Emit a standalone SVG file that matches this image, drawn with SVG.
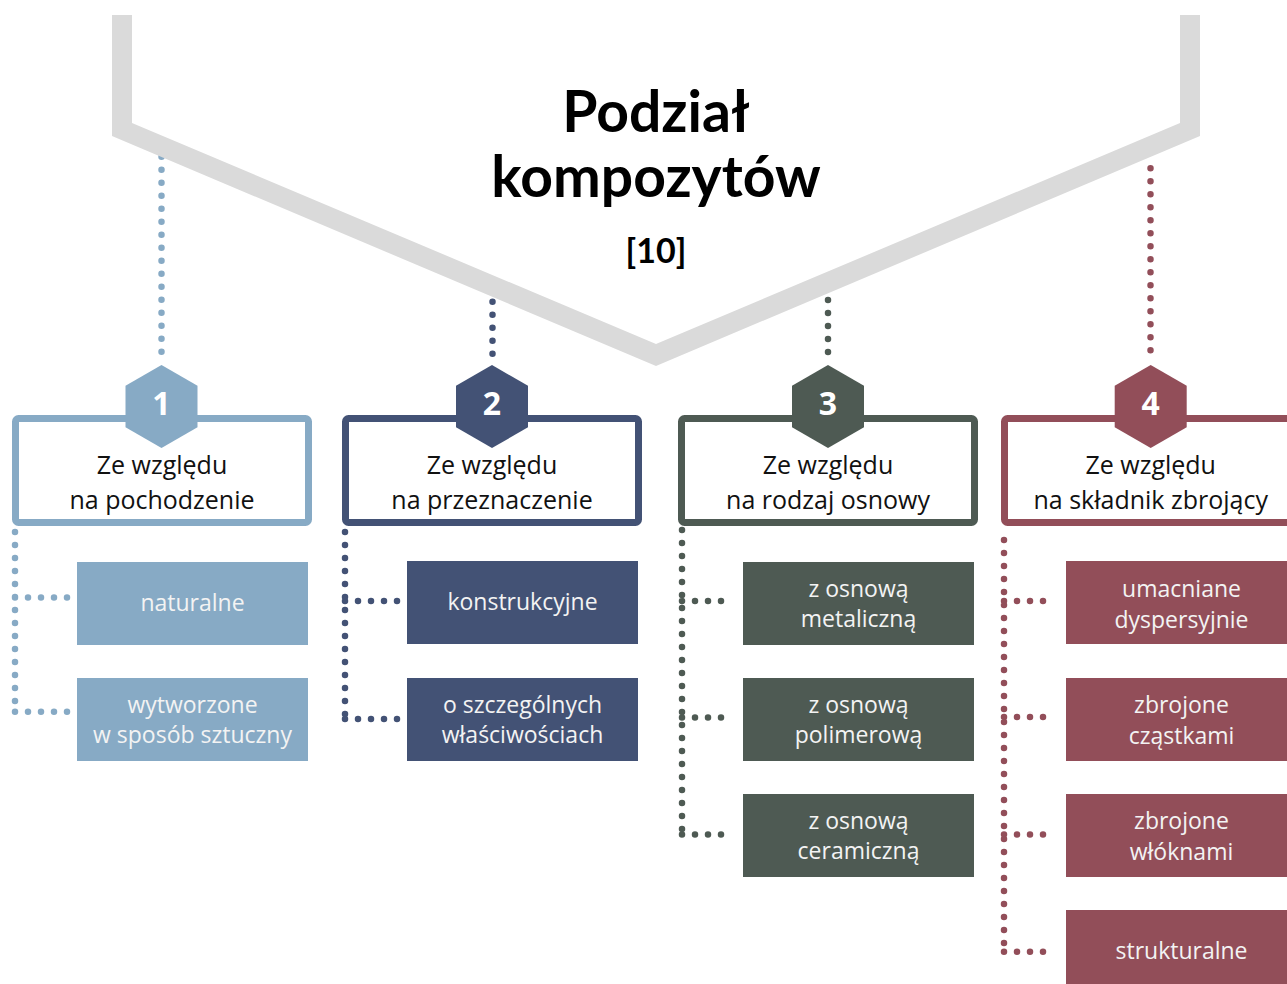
<svg xmlns="http://www.w3.org/2000/svg" width="1287" height="984" viewBox="0 0 1287 984">
<style>
.title{font-family:Lato,"Noto Sans",sans-serif;font-weight:700;fill:#000;text-anchor:middle}
.hdr{font-family:"Open Sans","Noto Sans",sans-serif;font-size:25px;fill:#111;text-anchor:middle}
.num{font-family:"Open Sans","Noto Sans",sans-serif;font-weight:700;font-size:32px;fill:#fff;text-anchor:middle}
.sub{font-family:"Open Sans","Noto Sans",sans-serif;font-size:23px;fill:#f3f3f3;text-anchor:middle}
.dot{fill:none;stroke-width:6.5;stroke-linecap:round;stroke-dasharray:0 13}
.frame{fill:#fff;stroke-width:7}
.c1{stroke:#87aac5}.f1{fill:#87aac5}
.c2{stroke:#435275}.f2{fill:#435275}
.c3{stroke:#4e5a53}.f3{fill:#4e5a53}
.c4{stroke:#924e59}.f4{fill:#924e59}
</style>
<rect width="1287" height="984" fill="#fff"/>
<g id="connectors">
<path class="dot c1" d="M161.5 156.7V355"/>
<path class="dot c2" d="M492.5 301.7V356"/>
<path class="dot c3" d="M828 300V354"/>
<path class="dot c4" d="M1150.5 168.3V355"/>
<path class="dot c1" d="M15 532V711.7M15 597.5H67.7M15 711.7H67.7"/>
<path class="dot c2" d="M345 532V719M345 601H397.7M345 719H397.7"/>
<path class="dot c3" d="M682 530V834.5M682 601H732.7M682 717.5H732.7M682 834.5H732.7"/>
<path class="dot c4" d="M1004 540V951.7M1004 601H1056M1004 717H1056M1004 834.5H1056M1004 951.7H1056"/>
</g>
<g id="header">
<polygon fill="#dadada" points="112,15 112,136 656,366 1200,136 1200,15 1180,15 1180,123 656,344 132,123 132,15"/>
<text class="title" x="656" y="132" font-size="57">Podział</text>
<text class="title" x="656" y="197" font-size="57">kompozytów</text>
<text class="title" x="656" y="263" font-size="34">[10]</text>
</g>
<g id="cat1">
<rect class="frame c1" x="15.5" y="418.5" width="293" height="104" rx="3"/>
<polygon class="f1" points="161.5,365 197.5,385.75 197.5,427.25 161.5,448 125.5,427.25 125.5,385.75"/>
<text class="num" x="161.5" y="415">1</text>
<text class="hdr" x="162" y="473.5">Ze względu</text>
<text class="hdr" x="162" y="508.5">na pochodzenie</text>
</g>
<g id="cat2">
<rect class="frame c2" x="345.5" y="418.5" width="293" height="104" rx="3"/>
<polygon class="f2" points="492,365 528,385.75 528,427.25 492,448 456,427.25 456,385.75"/>
<text class="num" x="492" y="415">2</text>
<text class="hdr" x="492" y="473.5">Ze względu</text>
<text class="hdr" x="492" y="508.5">na przeznaczenie</text>
</g>
<g id="cat3">
<rect class="frame c3" x="681.5" y="418.5" width="293" height="104" rx="3"/>
<polygon class="f3" points="828,365 864,385.75 864,427.25 828,448 792,427.25 792,385.75"/>
<text class="num" x="828" y="415">3</text>
<text class="hdr" x="828" y="473.5">Ze względu</text>
<text class="hdr" x="828" y="508.5">na rodzaj osnowy</text>
</g>
<g id="cat4">
<rect class="frame c4" x="1004.5" y="418.5" width="293" height="104" rx="3"/>
<polygon class="f4" points="1150.7,365 1186.7,385.75 1186.7,427.25 1150.7,448 1114.7,427.25 1114.7,385.75"/>
<text class="num" x="1150.7" y="415">4</text>
<text class="hdr" x="1150.7" y="473.5">Ze względu</text>
<text class="hdr" x="1150.7" y="508.5">na składnik zbrojący</text>
</g>
<g id="n1a"><rect class="f1" x="77" y="562" width="231" height="83"/><text class="sub" x="192.5" y="611">naturalne</text></g>
<g id="n1b"><rect class="f1" x="77" y="678" width="231" height="83"/><text class="sub" x="192.5" y="713">wytworzone</text><text class="sub" x="192.5" y="743">w sposób sztuczny</text></g>
<g id="n2a"><rect class="f2" x="407" y="561" width="231" height="83"/><text class="sub" x="522.5" y="610">konstrukcyjne</text></g>
<g id="n2b"><rect class="f2" x="407" y="678" width="231" height="83"/><text class="sub" x="522.5" y="713">o szczególnych</text><text class="sub" x="522.5" y="743">właściwościach</text></g>
<g id="n3a"><rect class="f3" x="743" y="562" width="231" height="83"/><text class="sub" x="858.5" y="597">z osnową</text><text class="sub" x="858.5" y="627">metaliczną</text></g>
<g id="n3b"><rect class="f3" x="743" y="678" width="231" height="83"/><text class="sub" x="858.5" y="713">z osnową</text><text class="sub" x="858.5" y="743">polimerową</text></g>
<g id="n3c"><rect class="f3" x="743" y="794" width="231" height="83"/><text class="sub" x="858.5" y="829">z osnową</text><text class="sub" x="858.5" y="859">ceramiczną</text></g>
<g id="n4a"><rect class="f4" x="1066" y="561" width="231" height="83"/><text class="sub" x="1181.5" y="597">umacniane</text><text class="sub" x="1181.5" y="628">dyspersyjnie</text></g>
<g id="n4b"><rect class="f4" x="1066" y="678" width="231" height="83"/><text class="sub" x="1181.5" y="713">zbrojone</text><text class="sub" x="1181.5" y="744">cząstkami</text></g>
<g id="n4c"><rect class="f4" x="1066" y="794" width="231" height="83"/><text class="sub" x="1181.5" y="829">zbrojone</text><text class="sub" x="1181.5" y="860">włóknami</text></g>
<g id="n4d"><rect class="f4" x="1066" y="910" width="231" height="83"/><text class="sub" x="1181.5" y="959">strukturalne</text></g>
</svg>
